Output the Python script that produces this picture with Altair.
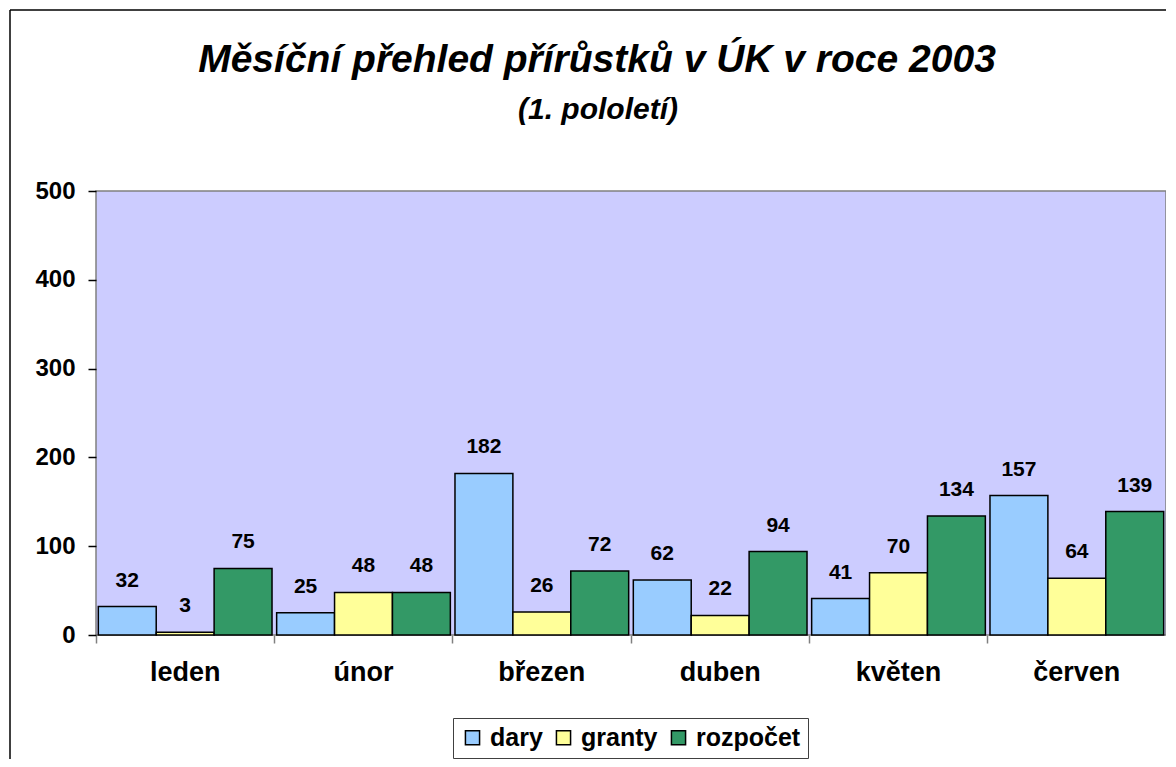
import altair as alt
import pandas as pd

months = ["leden", "únor", "březen", "duben", "květen", "červen"]
series = ["dary", "granty", "rozpočet"]
dary = [32, 25, 182, 62, 41, 157]
granty = [3, 48, 26, 22, 70, 64]
rozpocet = [75, 48, 72, 94, 134, 139]
colors = ["#99CCFF", "#FFFF99", "#339966"]
title_text = "Měsíční přehled přírůstků v ÚK v roce 2003"
subtitle_text = "(1. pololetí)"

rows = []
for i, m in enumerate(months):
    for s, vals in zip(series, [dary, granty, rozpocet]):
        rows.append({"mesic": m, "serie": s, "hodnota": vals[i]})
df = pd.DataFrame(rows)

FONT = "Liberation Sans"

x = alt.X("mesic:N", sort=months, title=None,
          scale=alt.Scale(paddingInner=0, paddingOuter=0),
          axis=alt.Axis(labelAngle=0, labelFontSize=27, labelFontWeight="bold",
                        labelColor="black", labelPadding=16, tickSize=8,
                        tickColor="#808080", tickWidth=1.5, bandPosition=0,
                        domain=False, labelFont=FONT))
xo = alt.XOffset("serie:N", sort=series,
                 scale=alt.Scale(paddingInner=0, paddingOuter=0.04))
y = alt.Y("hodnota:Q", title=None,
          scale=alt.Scale(domain=[0, 500], nice=False),
          axis=alt.Axis(values=[0, 100, 200, 300, 400, 500], grid=False,
                        labelFontSize=24, labelFontWeight="bold", labelColor="black",
                        labelPadding=13, tickSize=8, tickColor="black", tickWidth=1.5,
                        domain=False, labelFont=FONT))
color = alt.Color("serie:N", sort=series, title=None,
                  scale=alt.Scale(domain=series, range=colors),
                  legend=alt.Legend(orient="none", legendX=357, legendY=527,
                                    direction="horizontal", symbolType="square",
                                    symbolSize=200, symbolStrokeColor="black",
                                    symbolStrokeWidth=1.5, labelFontSize=25,
                                    labelFontWeight="bold", labelFont=FONT,
                                    labelColor="black",
                                    strokeColor="#404040", padding=7,
                                    columnPadding=8, labelOffset=5))

base = alt.Chart(df)
bars = base.mark_bar(stroke="black", strokeWidth=1.5).encode(x=x, xOffset=xo, y=y, color=color)
labels = base.mark_text(dy=-16, baseline="bottom", fontSize=21, fontWeight="bold",
                        font=FONT, color="black").encode(
    x=x, xOffset=xo, y=y, text="hodnota:Q")

one = pd.DataFrame({"a": [0]})
frame_left = alt.Chart(one).mark_rule(color="black", strokeWidth=1.5).encode(
    x=alt.value(-86), y=alt.value(-181), y2=alt.value(800))
frame_top = alt.Chart(one).mark_rule(color="black", strokeWidth=1.5).encode(
    x=alt.value(-86), x2=alt.value(1300), y=alt.value(-181))

title_mark = alt.Chart(pd.DataFrame({"t": [title_text]})).mark_text(
    font=FONT, fontSize=39, fontStyle="italic", fontWeight="bold", color="black",
    align="center", baseline="alphabetic").encode(
    x=alt.value(501), y=alt.value(-119), text="t:N")
subtitle_mark = alt.Chart(pd.DataFrame({"t": [subtitle_text]})).mark_text(
    font=FONT, fontSize=30, fontStyle="italic", fontWeight="bold", color="black",
    align="center", baseline="alphabetic").encode(
    x=alt.value(502), y=alt.value(-72), text="t:N")

chart = alt.layer(bars, labels, frame_left, frame_top, title_mark, subtitle_mark).properties(
    width=1070, height=444,
    autosize=alt.AutoSizeParams(type="none"),
    padding={"left": 88, "top": 183, "right": 0, "bottom": 124},
    background="white",
).configure_view(fill="#CCCCFF", stroke="#808080", strokeWidth=1.5)

chart.save("out.html", embed_options={"renderer": "svg", "actions": False})
